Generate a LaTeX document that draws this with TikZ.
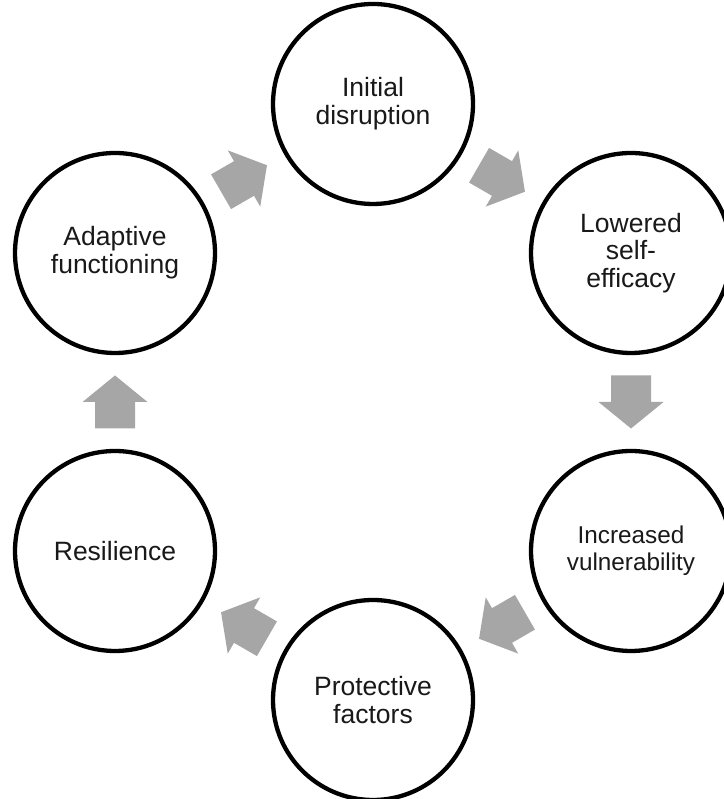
\documentclass[tikz,border=0pt]{standalone}
\usepackage{fontspec}
\setmainfont{Liberation Sans}
\usetikzlibrary{calc}
\definecolor{arrowgray}{HTML}{A6A6A6}
\newcommand\blkarrow[3]{%
  \begin{scope}[shift={($(#1)!0.5!(#2)$)}, rotate=#3]
    \fill[arrowgray] (-26.5,-20) -- (0,-20) -- (0,-32.5) -- (26.5,0) -- (0,32.5) -- (0,20) -- (-26.5,20) -- cycle;
  \end{scope}}
\begin{document}
\begin{tikzpicture}[x=1pt,y=1pt,
  stage/.style={circle, draw=black, line width=4.3pt, fill=white, minimum size=200pt, inner sep=0pt,
    align=center, font=\fontsize{26.5}{27.8}\selectfont, text=black!90}]
\useasboundingbox (0,0) rectangle (723,799);
\node[stage] (A) at (373,695) {Initial\\disruption};
\node[stage] (B) at (631,546) {Lowered\\self-\\efficacy};
\node[stage, font=\fontsize{24.3}{27}\selectfont] (C) at (631,248) {Increased\\vulnerability};
\node[stage] (D) at (373,99) {Protective\\factors};
\node[stage] (E) at (115,248) {Resilience};
\node[stage] (F) at (115,546) {Adaptive\\functioning};
\blkarrow{A}{B}{-30}
\blkarrow{B}{C}{-90}
\blkarrow{C}{D}{-150}
\blkarrow{D}{E}{150}
\blkarrow{E}{F}{90}
\blkarrow{F}{A}{30}
\end{tikzpicture}
\end{document}
